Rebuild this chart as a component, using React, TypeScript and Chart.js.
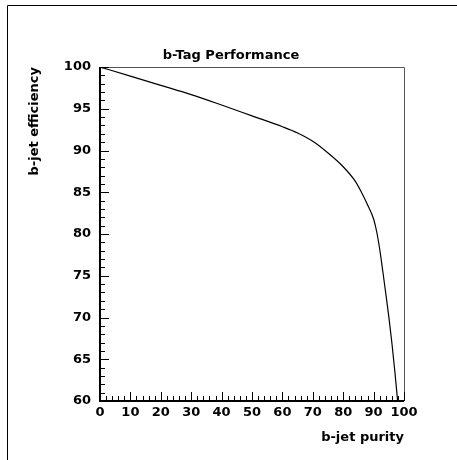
import React, { useEffect, useRef } from "react";
import { Chart, registerables } from "chart.js";

Chart.register(...registerables);

const purity = [0, 10, 20, 30, 40, 50, 60, 65, 70, 75, 80, 84, 86, 88, 90, 91, 92, 93, 94, 95, 96, 97, 97.9];
const efficiency = [100, 98.9, 97.8, 96.7, 95.45, 94.15, 92.85, 92.1, 91.1, 89.7, 88.05, 86.3, 85.0, 83.5, 81.8, 80.3, 78.2, 75.6, 72.9, 70.1, 67.0, 63.5, 60];

const chartTitle = "b-Tag Performance";
const xTitle = "b-jet purity";
const yTitle = "b-jet efficiency";

const FONT = "'DejaVu Sans', sans-serif";

const pawPlugin = {
  id: "pawFrame",
  beforeDraw(chart: any) {
    const ctx = chart.ctx;
    ctx.save();
    ctx.strokeStyle = "#000";
    ctx.lineWidth = 1;
    ctx.beginPath();
    ctx.moveTo(7.5, 460);
    ctx.lineTo(7.5, 5.5);
    ctx.lineTo(457, 5.5);
    ctx.stroke();
    ctx.restore();
  },
  afterDraw(chart: any) {
    const { ctx, chartArea } = chart;
    const { left, right, top, bottom } = chartArea;
    const x = chart.scales.x;
    const y = chart.scales.y;
    ctx.save();
    ctx.strokeStyle = "#555";
    ctx.lineWidth = 1;
    ctx.beginPath();
    ctx.moveTo(left, top + 0.5);
    ctx.lineTo(right + 0.5, top + 0.5);
    ctx.lineTo(right + 0.5, bottom);
    ctx.stroke();

    ctx.strokeStyle = "#000";
    ctx.lineWidth = 1;
    ctx.beginPath();
    x.ticks.forEach((t: any) => {
      const px = Math.round(x.getPixelForValue(t.value)) + 0.5;
      const len = Math.abs(t.value % 10) < 1e-6 ? 9 : 5;
      ctx.moveTo(px, bottom);
      ctx.lineTo(px, bottom - len);
    });
    y.ticks.forEach((t: any) => {
      const py = Math.round(y.getPixelForValue(t.value)) + 0.5;
      const len = Math.abs(t.value % 5) < 1e-6 ? 9 : 5;
      ctx.moveTo(left, py);
      ctx.lineTo(left + len, py);
    });
    ctx.stroke();

    ctx.lineWidth = 2;
    ctx.beginPath();
    ctx.moveTo(left, top);
    ctx.lineTo(left, bottom);
    ctx.lineTo(right, bottom);
    ctx.stroke();
    ctx.restore();
  },
};

export default function App() {
  const ref = useRef<HTMLCanvasElement>(null);

  useEffect(() => {
    if (!ref.current) return;
    const chart = new Chart(ref.current, {
      type: "line",
      data: {
        datasets: [
          {
            data: purity.map((p, i) => ({ x: p, y: efficiency[i] })),
            borderColor: "#000",
            borderWidth: 1.2,
            pointRadius: 0,
            fill: false,
            cubicInterpolationMode: "monotone",
          },
        ],
      },
      options: {
        responsive: false,
        animation: false,
        layout: { padding: { left: 5, right: 0, top: 0, bottom: 0 } },
        plugins: {
          legend: { display: false },
          tooltip: { enabled: false },
          title: {
            display: true,
            text: chartTitle,
            color: "#000",
            font: { family: FONT, size: 13, weight: "bold", lineHeight: 1.2 },
            padding: { top: 48, bottom: 3.4 },
          },
        },
        scales: {
          x: {
            type: "linear",
            min: 0,
            max: 100,
            grid: { display: false, drawTicks: false },
            border: { display: false },
            ticks: {
              stepSize: 2,
              autoSkip: false,
              maxRotation: 0,
              padding: 4,
              color: "#000",
              font: { family: FONT, size: 13, weight: "bold" },
              callback: (v: any) => (Number(v) % 10 === 0 ? String(v) : ""),
            },
            title: {
              display: true,
              text: xTitle,
              align: "end",
              color: "#000",
              font: { family: FONT, size: 13, weight: "bold", lineHeight: 1.2 },
              padding: { top: 0, bottom: 15 },
            },
            afterFit: (s: any) => {
              s.height = 59;
            },
          },
          y: {
            type: "linear",
            min: 60,
            max: 100,
            grid: { display: false, drawTicks: false },
            border: { display: false },
            ticks: {
              stepSize: 1,
              autoSkip: false,
              padding: 9,
              color: "#000",
              font: { family: FONT, size: 13, weight: "bold" },
              callback: (v: any) => (Number(v) % 5 === 0 ? String(v) : ""),
            },
            title: {
              display: true,
              text: yTitle,
              align: "end",
              color: "#000",
              font: { family: FONT, size: 13, weight: "bold", lineHeight: 1.2 },
              padding: { top: 22, bottom: 0 },
            },
            afterFit: (s: any) => {
              s.width = 95;
            },
          },
          y2: {
            type: "linear",
            position: "right",
            display: true,
            grid: { display: false, drawTicks: false },
            border: { display: false },
            ticks: { display: false },
            afterFit: (s: any) => {
              s.width = 53;
            },
          },
        },
      },
      plugins: [pawPlugin],
    } as any);
    return () => chart.destroy();
  }, []);

  return (
    <div style={{ position: "absolute", left: 0, top: 0, width: 457, height: 460, background: "#fff" }}>
      <canvas ref={ref} width={457} height={460} style={{ display: "block" }} />
    </div>
  );
}
